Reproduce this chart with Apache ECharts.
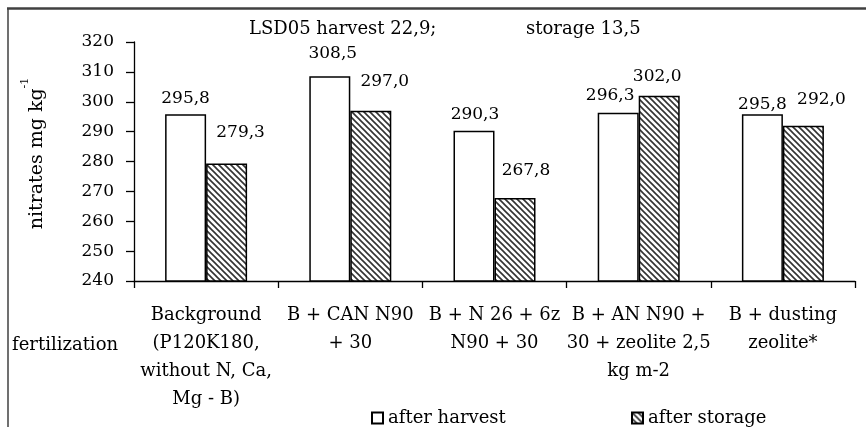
<!DOCTYPE html>
<html>
<head>
<meta charset="utf-8">
<script src="https://cdn.jsdelivr.net/npm/echarts@6/dist/echarts.min.js"></script>
<style>
html,body{margin:0;padding:0;background:#fff;}
#chart{width:866px;height:427px;}
</style>
</head>
<body>
<div id="chart"></div>
<script>
// ---- data ----
const categories = [
  'Background\n(P120K180,\nwithout N, Ca,\nMg - B)',
  'B + CAN N90\n+ 30',
  'B + N 26 + 6z\nN90 + 30',
  'B + AN N90 +\n30 + zeolite 2,5\nkg m-2',
  'B + dusting\nzeolite*'
];
const seriesNames = ['after harvest', 'after storage'];
const afterHarvest = [295.8, 308.5, 290.3, 296.3, 295.8];
const afterStorage = [279.3, 297.0, 267.8, 302.0, 292.0];
const yTicks = { min: 240, max: 320, interval: 10 };
const annotationLeft = 'LSD05 harvest 22,9;';
const annotationRight = 'storage 13,5';
const xAxisTitle = 'fertilization';

// ---- styles (label nudges, not data) ----
const harvestLabelOffset = [[0,-2],[3,-9],[1,-3],[-8,-4],[0,4]];
const storageLabelOffset = [[14,-18],[14,-16],[11,-14],[-2,-6],[18,-13]];

const FONT = 'DejaVu Serif';
const FS = 18;   // words
const FN = 17;   // numbers

function makeHatch() {
  const c = document.createElement('canvas');
  c.width = 6; c.height = 6;
  const g = c.getContext('2d');
  g.fillStyle = '#fff'; g.fillRect(0, 0, 6, 6);
  g.strokeStyle = '#333'; g.lineWidth = 1.6;
  g.beginPath();
  g.moveTo(-1, -1); g.lineTo(7, 7);
  g.moveTo(-1, 5); g.lineTo(1, 7);
  g.moveTo(5, -1); g.lineTo(7, 1);
  g.stroke();
  return c;
}
const hatch = { image: makeHatch(), repeat: 'repeat' };

const fmt = v => v.toFixed(1).replace('.', ',');

function buildData(values, offsets) {
  return values.map((v, i) => ({
    value: v,
    label: { offset: offsets[i] }
  }));
}

const chart = echarts.init(document.getElementById('chart'), null, { renderer: 'canvas' });
const labelStyle = {
  show: true, position: 'top', distance: 5,
  fontFamily: FONT, fontSize: FN, color: '#000',
  formatter: p => fmt(p.value)
};

chart.setOption({
  animation: false,
  backgroundColor: '#fff',
  textStyle: { fontFamily: FONT, color: '#000' },
  grid: { left: 134, right: 11, top: 42, bottom: 146, containLabel: false },
  legend: [
    {
      data: [seriesNames[0]], left: 366, top: 404,
      itemWidth: 11, itemHeight: 11, icon: 'rect',
      textStyle: { fontFamily: FONT, fontSize: FS, color: '#000' }
    },
    {
      data: [seriesNames[1]], left: 626, top: 404,
      itemWidth: 11, itemHeight: 11, icon: 'rect',
      textStyle: { fontFamily: FONT, fontSize: FS, color: '#000' }
    }
  ],
  xAxis: {
    type: 'category',
    data: categories,
    axisLine: { lineStyle: { color: '#000', width: 1.3 } },
    axisTick: { show: true, length: 7, inside: false, lineStyle: { color: '#000', width: 1.3 } },
    axisLabel: { interval: 0, margin: 20, fontFamily: FONT, fontSize: FS, lineHeight: 28, color: '#000', align: 'center' }
  },
  yAxis: {
    type: 'value',
    min: yTicks.min, max: yTicks.max, interval: yTicks.interval,
    splitLine: { show: false },
    axisLine: { show: true, lineStyle: { color: '#000', width: 1.3 } },
    axisTick: { show: true, length: 8, lineStyle: { color: '#000', width: 1.3 } },
    axisLabel: { margin: 20, fontFamily: FONT, fontSize: FN, color: '#000' },
    name: '{m|nitrates mg kg}{s|-1}',
    nameLocation: 'middle',
    nameRotate: 90,
    nameGap: 80,
    nameTextStyle: {
      padding: [0, 0, 0, 16],
      rich: {
        m: { fontFamily: FONT, fontSize: 19, lineHeight: 34, color: '#000' },
        s: { fontFamily: FONT, fontSize: 11, lineHeight: 11, verticalAlign: 'top', color: '#000' }
      }
    }
  },
  series: [
    {
      name: seriesNames[0], type: 'bar', barWidth: 41, barGap: '0%',
      data: buildData(afterHarvest, harvestLabelOffset),
      itemStyle: { color: '#fff', borderColor: '#000', borderWidth: 1.5 },
      label: labelStyle
    },
    {
      name: seriesNames[1], type: 'bar', barWidth: 41, barGap: '0%',
      data: buildData(afterStorage, storageLabelOffset),
      itemStyle: { color: hatch, borderColor: '#000', borderWidth: 1.5 },
      label: labelStyle
    }
  ],
  graphic: [
    { type: 'line', shape: { x1: 7, y1: 8.5, x2: 866, y2: 8.5 }, style: { stroke: '#404040', lineWidth: 2.5 }, silent: true },
    { type: 'line', shape: { x1: 8, y1: 8, x2: 8, y2: 427 }, style: { stroke: '#404040', lineWidth: 1.5 }, silent: true },
    { type: 'text', left: 249, top: 20, style: { text: annotationLeft, fontFamily: FONT, fontSize: FS, fill: '#000' } },
    { type: 'text', left: 526, top: 20, style: { text: annotationRight, fontFamily: FONT, fontSize: FS, fill: '#000' } },
    { type: 'text', left: 12, top: 336, style: { text: xAxisTitle, fontFamily: FONT, fontSize: FS, fill: '#000' } }
  ]
});
</script>
</body>
</html>
